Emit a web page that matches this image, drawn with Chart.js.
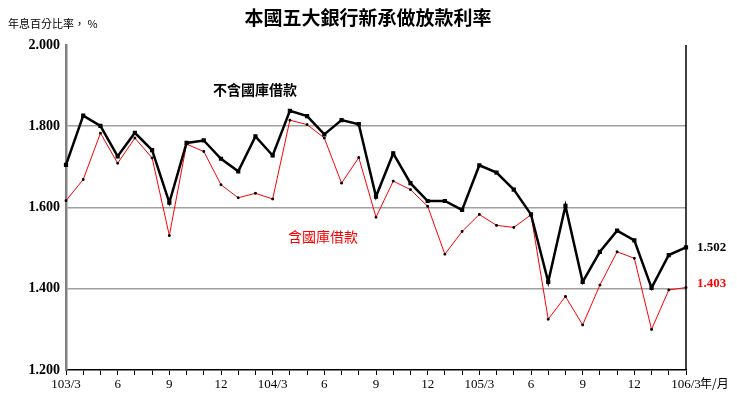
<!DOCTYPE html>
<html><head><meta charset="utf-8">
<script src="https://cdn.jsdelivr.net/npm/chart.js@4"></script>
<style>html,body{margin:0;padding:0;background:#fff}#w{width:737px;height:404px}</style>
</head><body><div id="w"><canvas id="c"></canvas></div>
<script>
const months = ["103/3","4","5","6","7","8","9","10","11","12","104/3","2","3","4","5","6","7","8","9","10","11","12","105/3","2","3","4","5","6","7","8","9","10","11","12","106/3","2","3"];
const tickLabels = ["103/3","","","6","","","9","","","12","","","104/3","","","6","","","9","","","12","","","105/3","","","6","","","9","","","12","","","106/3"];
const exclTreasury = [1.705,1.826,1.801,1.726,1.784,1.741,1.612,1.759,1.765,1.720,1.689,1.775,1.728,1.838,1.825,1.780,1.815,1.805,1.627,1.733,1.660,1.616,1.616,1.594,1.704,1.686,1.644,1.583,1.417,1.604,1.417,1.491,1.543,1.519,1.402,1.483,1.502];
const inclTreasury = [1.617,1.669,1.783,1.709,1.771,1.722,1.531,1.756,1.738,1.656,1.624,1.635,1.621,1.815,1.804,1.771,1.660,1.723,1.576,1.665,1.644,1.603,1.485,1.541,1.583,1.556,1.551,1.582,1.325,1.381,1.311,1.409,1.491,1.475,1.300,1.397,1.403];
const yTicks = [1.2,1.4,1.6,1.8,2.0];

const serif = "'Liberation Serif','DejaVu Serif',serif";
const cjk = "'Noto Sans CJK TC','Noto Sans CJK SC',sans-serif";

const deco = {
  id:'deco',
  afterDraw(ch){
    const c=ch.ctx, x=ch.scales.x, y=ch.scales.y, a=ch.chartArea;
    c.save();
    c.fillStyle='#000'; c.textAlign='center'; c.textBaseline='middle';
    c.font="bold 19px "+cjk; c.fillText("本國五大銀行新承做放款利率",368,18);
    c.textAlign='left'; c.font="11px "+cjk; c.fillText("年息百分比率， %",8,24);
    c.font="bold 14px "+cjk; c.fillText("不含國庫借款",213,90);
    c.fillStyle='#ff0000'; c.font="14px "+cjk; c.fillText("含國庫借款",288,237);
    const n=exclTreasury.length-1;
    c.font="bold 13px "+serif;
    c.fillStyle='#000'; c.fillText(exclTreasury[n].toFixed(3),697,y.getPixelForValue(exclTreasury[n]));
    c.fillStyle='#ff0000'; c.fillText(inclTreasury[n].toFixed(3),697,y.getPixelForValue(inclTreasury[n])-4);
    c.fillStyle='#000'; c.font="12px "+cjk; c.fillText("年/月",700,383);
    c.strokeStyle='#000'; c.lineWidth=1.5;
    c.beginPath(); c.moveTo(a.right,a.top); c.lineTo(a.right,a.bottom); c.stroke();
    c.restore();
  }
};

new Chart(document.getElementById('c'),{
  type:'line',
  data:{labels:months,datasets:[
    {data:exclTreasury,borderColor:'#000',borderWidth:2.5,pointRadius:1.2,pointStyle:'rect',pointBackgroundColor:'#000',pointBorderColor:'#000',tension:0},
    {data:inclTreasury,borderColor:'#ff0000',borderWidth:1,pointRadius:1.2,pointStyle:'rect',pointBackgroundColor:'#000',pointBorderColor:'#000',tension:0}
  ]},
  options:{
    responsive:true,maintainAspectRatio:false,animation:false,
    layout:{padding:{top:45,right:51,bottom:4,left:0}},
    plugins:{legend:{display:false},tooltip:{enabled:false}},
    scales:{
      x:{type:'category',offset:false,
        grid:{display:true,drawOnChartArea:false,color:'#000',tickLength:5},
        border:{color:'#000',width:1.5},
        ticks:{autoSkip:false,maxRotation:0,color:'#000',font:{family:serif,size:13},padding:2,
          callback:(v,i)=>tickLabels[i]},
        afterFit(s){s.height=30;}
      },
      y:{min:1.2,max:2.0,
        afterBuildTicks(s){s.ticks=yTicks.map(v=>({value:v}));},
        grid:{color:(c)=>c.tick&&(c.tick.value===2.0||c.tick.value===1.2)?'rgba(0,0,0,0)':'#a0a0a0',lineWidth:1.5,drawTicks:false},
        border:{color:'#808080',width:2.5},
        ticks:{color:'#000',font:{family:serif,size:14,weight:'bold'},padding:6,callback:v=>v.toFixed(3)},
        afterFit(s){s.width=66;}
      }
    }
  },
  plugins:[deco]
});
</script></body></html>
